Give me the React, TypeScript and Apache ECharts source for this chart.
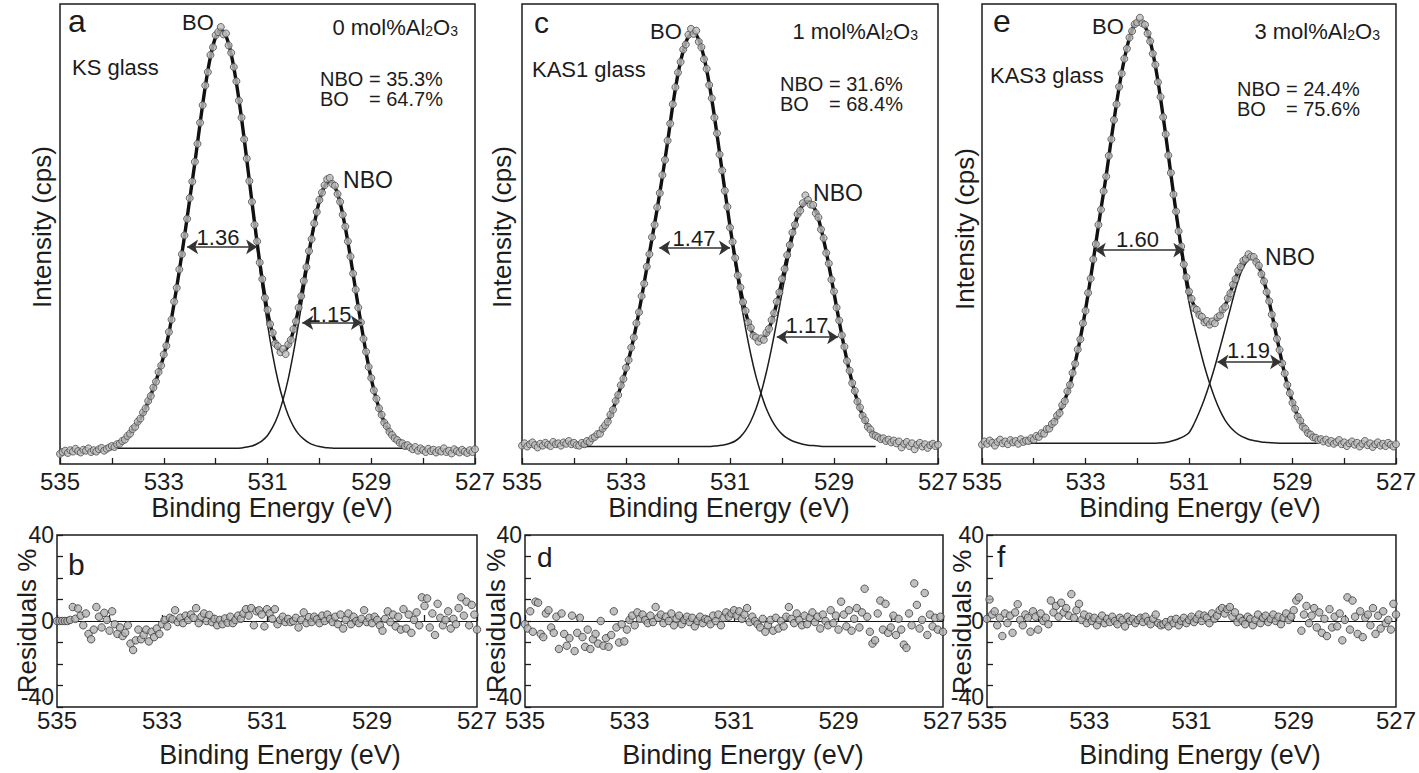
import React, { useEffect, useRef } from 'react';
import * as echarts from 'echarts';

const FONT = "'Liberation Sans', Arial, Helvetica, sans-serif";
const INK = '#1c1c1c';

// ---- measured spectra (intensity, arbitrary 0-100 units), 535.00 -> 527.00 eV, 0.05 eV step ----
const E_START = 535;
const E_STEP = 0.05;

const dataA = [
  2.2, 2.6, 2.9, 2.4, 3.0, 2.7, 3.3, 2.8, 2.5, 3.1, 2.9, 3.4, 2.6, 3.0, 2.7, 3.2, 3.5, 2.9, 3.3, 3.6,
  3.9, 3.7, 4.3, 4.4, 5.0, 5.3, 6.1, 6.6, 7.6, 8.1,
  9.2, 9.9, 11.2, 12.1, 13.7, 14.8, 16.6, 17.9, 20.0, 21.4,
  23.8, 25.7, 28.7, 31.4, 35.3, 38.3, 42.3, 45.6, 49.7, 53.3,
  57.8, 61.4, 65.7, 69.6, 74.2, 78.0, 82.3, 85.2, 88.9, 90.6,
  93.2, 93.9, 95.0, 93.4, 93.6, 91.0, 89.4, 86.3, 83.2, 79.0,
  75.3, 70.6, 66.4, 61.5, 57.0, 52.0, 48.4, 43.8, 40.2, 36.1,
  33.5, 30.4, 28.5, 26.2, 25.6, 24.3, 25.0, 23.9, 26.0, 27.0,
  29.3, 31.0, 34.0, 36.5, 39.8, 42.8, 46.3, 48.9, 52.3, 54.8,
  57.4, 59.0, 60.6, 61.9, 62.2, 60.9, 60.5, 58.7, 57.0, 54.2,
  51.6, 48.4, 45.1, 41.4, 37.9, 34.0, 30.8, 27.2, 24.4, 21.1,
  18.7, 16.0, 14.2, 12.1, 10.7, 9.0, 8.2, 7.0, 6.3, 5.6,
  5.2, 4.6, 4.5, 3.9, 4.1,
  3.6, 3.2, 3.7, 2.9, 3.4, 3.0, 2.6, 3.3, 2.8, 3.1, 2.5, 3.0, 2.7, 3.4, 2.6, 2.9, 2.3, 3.2, 2.8, 2.5, 3.1, 2.7, 2.4, 3.0, 2.6, 3.2,
];

const dataC = [
  4.0, 4.5, 3.8, 4.3, 4.7, 4.1, 3.6, 4.4, 4.0, 4.6, 4.2, 3.9, 4.8, 4.3, 4.5, 4.0, 4.7, 4.4, 5.0, 4.3, 4.6, 4.1,
  4.0, 4.6, 4.3, 5.0, 4.8, 5.6, 5.9, 6.5, 6.6, 7.7,
  8.4, 9.2, 10.7, 11.8, 13.7, 15.0, 17.1, 18.5, 20.9, 22.6,
  25.3, 27.5, 30.6, 33.0, 36.5, 39.2, 42.9, 45.6, 49.3, 52.0,
  55.8, 58.9, 62.8, 66.1, 70.3, 74.0, 78.2, 81.9, 85.1, 87.4,
  90.1, 91.2, 93.3, 94.6, 93.5, 94.2, 91.8, 90.6, 88.0, 85.9,
  82.4, 79.5, 75.3, 71.9, 67.3, 63.8, 59.4, 55.9, 51.4, 48.3,
  44.8, 41.0, 38.4, 35.2, 33.3, 30.8, 29.6, 27.9, 27.5, 26.6,
  27.3, 27.0, 28.5, 29.4, 31.3, 32.8, 35.3, 37.3, 40.2, 42.4,
  45.4, 47.6, 50.3, 52.0, 54.3, 55.1, 56.7, 58.4, 57.4, 56.4,
  56.3, 54.5, 53.6, 51.0, 49.1, 45.9, 43.6, 40.1, 37.5, 34.0,
  31.2, 28.0, 25.5, 22.4, 20.3, 17.6, 15.9, 13.6, 12.3, 10.5,
  9.5, 8.1, 7.5, 6.4, 6.1,
  5.8, 5.4, 5.6, 5.0, 5.3, 4.7, 5.1, 4.5, 4.9, 3.6, 4.4, 4.8, 3.9, 4.5, 3.2, 4.2, 4.6, 3.8, 4.3, 3.5, 4.1, 4.4, 3.9, 4.2,
];

const dataE = [
  4.2, 4.9, 4.4, 5.1, 4.6, 4.0, 4.8, 5.3, 4.5, 4.9, 4.3, 5.2, 4.7, 5.0, 4.4, 5.4, 4.8, 5.1,
  5.0, 5.6, 5.3, 6.1, 5.9, 6.7, 6.6, 7.6, 7.7, 8.7,
  9.2, 10.5, 11.1, 12.8, 13.7, 15.8, 17.2, 19.8, 21.8, 24.9,
  27.1, 30.6, 33.3, 37.2, 40.3, 44.5, 47.8, 52.0, 55.3, 59.3,
  62.5, 67.0, 70.6, 74.8, 78.2, 82.0, 84.9, 88.1, 90.3, 92.7,
  94.1, 95.6, 96.0, 97.0, 95.8, 95.5, 93.6, 91.9, 89.2, 86.8,
  83.0, 79.8, 75.4, 71.7, 67.1, 63.3, 58.6, 54.9, 50.6, 47.3,
  43.4, 40.6, 37.5, 35.9, 33.9, 33.5, 32.4, 32.0, 30.8, 31.1,
  30.3, 31.0, 30.6, 31.9, 32.3, 33.6, 34.2, 36.0, 37.1, 39.0,
  40.2, 42.0, 42.9, 44.2, 44.6, 45.6, 45.1, 45.0, 43.9, 43.1,
  41.3, 39.7, 37.4, 35.4, 32.5, 30.2, 27.2, 24.8, 21.9, 19.7,
  17.2, 15.4, 13.3, 12.0, 10.3, 9.4, 8.1, 7.6, 6.7, 6.4,
  5.8, 5.7, 5.2,
  5.4, 4.9, 5.3, 4.6, 5.0, 4.4, 4.8, 5.2, 4.3, 4.7, 3.9, 4.5, 4.9, 4.2, 4.6, 3.8, 4.4, 5.0, 4.1, 4.5, 3.7, 4.3, 4.7, 4.0, 4.4, 3.9, 4.6, 4.2, 3.8, 4.3,
];

// ---- fitted components, 0.1 eV step over the fit window ----
const FIT_STEP = 0.1;
const fitStartA = 534.0;
const baseA = 3.4;
const boA = [
  3.7, 4.2, 4.9, 6.0, 7.5, 9.0, 11.0, 13.5, 16.5, 19.8, 23.5, 28.5, 35.0, 42.0, 49.5, 57.5, 65.5, 74.0, 82.0, 88.5, 92.8, 94.4,
  93.0, 89.1, 82.9, 75.0, 65.9, 56.5, 47.1, 38.3, 30.4, 23.7, 18.2, 13.9, 10.6, 8.2, 6.5, 5.4, 4.6, 4.1, 3.8, 3.6, 3.5,
  3.4, 3.4, 3.4, 3.4, 3.4, 3.4, 3.4, 3.4, 3.4, 3.4, 3.4, 3.4, 3.4, 3.4, 3.4,
];
const nboA = [
  3.4, 3.4, 3.4, 3.4, 3.4, 3.4, 3.4, 3.4, 3.4, 3.4, 3.4, 3.4, 3.4, 3.4, 3.4, 3.4, 3.4, 3.4, 3.4, 3.4, 3.4, 3.4, 3.4, 3.4, 3.4,
  3.5, 3.7, 3.9, 4.4, 5.1, 6.2, 8.0, 10.5, 14.0, 18.5, 24.2, 30.7, 37.7, 44.9, 51.4, 56.8, 60.2, 61.4,
  60.2, 56.8, 51.4, 44.9, 37.7, 30.7, 24.2, 18.5, 14.0, 10.5, 8.0, 6.2, 5.1, 4.4, 3.9,
];

const fitStartC = 533.9;
const baseC = 3.8;
const boC = [
  4.2, 4.5, 5.0, 5.8, 6.8, 8.2, 10.5, 13.5, 16.8, 20.5, 25.0, 30.2, 36.2, 42.6, 49.0, 55.5, 62.5, 70.0, 78.0, 84.8,
  89.8, 92.9, 93.8, 92.2, 88.4, 82.7, 75.5, 67.4, 59.2, 51.0, 43.3, 36.0, 29.5, 23.8, 19.0, 15.2, 12.0, 9.6, 7.8, 6.5,
  5.6, 5.0, 4.6, 4.3, 4.1, 4.0, 3.9,
  3.8, 3.8, 3.8, 3.8, 3.8, 3.8, 3.8, 3.8, 3.8, 3.8, 3.8,
];
const nboC = [
  3.8, 3.8, 3.8, 3.8, 3.8, 3.8, 3.8, 3.8, 3.8, 3.8, 3.8, 3.8, 3.8, 3.8, 3.8, 3.8, 3.8, 3.8, 3.8, 3.8, 3.8, 3.8, 3.8, 3.8, 3.8, 3.8,
  3.9, 4.0, 4.2, 4.5, 5.0, 5.9, 7.3, 9.3, 12.0, 15.6, 20.0, 25.2, 31.0, 37.2, 43.3, 48.8, 53.2, 55.9, 56.8,
  55.9, 53.2, 48.8, 43.3, 37.2, 31.0, 25.2, 20.0, 15.6, 12.0, 9.3, 7.3, 5.9,
];

const fitStartE = 534.1;
const baseE = 4.5;
const boE = [
  5.1, 5.5, 6.0, 6.8, 7.8, 9.3, 11.3, 13.9, 17.3, 22.0, 27.3, 33.5, 40.5, 48.0, 55.5, 62.7, 70.8, 78.4, 85.1, 90.5,
  94.3, 96.2, 96.0, 93.8, 89.5, 83.2, 75.5, 67.0, 58.2, 49.8, 42.0, 35.2, 30.0, 25.5, 21.2, 17.5, 14.3, 11.6, 9.5, 8.0,
  6.9, 6.1, 5.6, 5.2, 5.0, 4.8, 4.7, 4.6, 4.55, 4.5,
  4.5, 4.5, 4.5, 4.5, 4.5, 4.5, 4.5,
];
const nboE = [
  4.5, 4.5, 4.5, 4.5, 4.5, 4.5, 4.5, 4.5, 4.5, 4.5, 4.5, 4.5, 4.5, 4.5, 4.5, 4.5, 4.5, 4.5, 4.5, 4.5, 4.5, 4.5, 4.5, 4.5, 4.5,
  4.55, 4.6, 4.8, 5.1, 5.5, 6.0, 6.8, 8.8, 11.3, 14.2, 17.5, 21.2, 25.3, 29.5, 33.8, 38.0, 41.5, 43.7, 44.6,
  43.6, 41.2, 37.4, 32.6, 27.3, 22.0, 17.3, 13.4, 10.4, 8.2, 6.8, 5.9, 5.3,
];

// ---- residuals (%), 535.00 -> 527.00 eV, 0.05 eV step ----
const residB = [
  0, 0, 0, 0, 0, 0.5, 6.5, 1.0, 5.8, 2.5,
  -2.0, 3.5, -6.0, -8.5, -4.0, 6.5, 2.0, -3.0, 3.8, 0.5,
  -4.5, 4.5, -1.5, -6.0, -3.0, -7.0, -5.5, -2.0, -10.5, -13.5,
  -9.0, -4.0, -8.5, -6.5, -4.0, -9.5, -5.0, -7.5, -3.5, -6.0,
  -1.5, 0.5, -2.5, 1.5, 0.8, 5.0, -0.5, 1.5, -1.0, 2.5,
  0.5, 3.0, 1.5, 6.0, -1.0, 2.0, 3.5, 0.0, 2.8, -0.5,
  1.0, -2.0, 0.5, -1.5, 1.2, -0.8, 2.0, -1.0, 0.5, 2.5,
  1.0, 3.5, 5.5, 2.5, 6.0, -2.0, 4.5, 5.0, 3.0, -2.5,
  5.5, 3.5, 1.0, 5.5, -1.5, 0.5, 2.0, -0.5, 1.0, -0.5,
  0.0, 1.5, -3.0, 0.5, 4.0, -1.0, 1.8, -0.5, 2.0, 0.8,
  -1.0, 2.5, 0.0, 3.0, 1.0, -0.5, 2.0, -1.5, 3.0, -3.5,
  0.5, 3.5, -1.5, 2.0, 0.0, -1.0, 1.0, 5.0, -0.5, 1.5,
  -1.0, 2.0, 0.5, -2.0, -4.5, 1.0, 4.5, -0.5, 3.0, -2.5,
  2.0, -4.0, 5.5, -3.5, 3.0, -5.5, 0.5, 4.0, -2.0, 11.0,
  7.0, 10.5, -3.0, 3.5, -6.5, 8.0, 1.5, -2.0, 0.5, 4.5,
  -3.5, 1.0, -1.5, 6.0, 11.0, 2.5, 9.0, -2.0, 7.5, 3.0,
  -4.0,
];

const residD = [
  -1.5, -3.5, 4.5, -5.0, 9.0, 8.5, -6.0, -7.5, 3.5, 5.0,
  -3.0, -5.5, 2.0, -13.0, 3.5, -6.0, -11.5, -8.0, 2.5, -14.0,
  -5.5, 1.5, -7.5, -12.0, -4.0, -13.0, -8.5, -6.0, -10.5, 0.0,
  -11.5, -8.0, -12.0, -6.5, 4.5, -3.0, -10.0, -1.5, -9.5, -4.0,
  0.5, 2.5, -2.0, 4.0, 1.0, 3.0, 0.5, -1.0, 2.5, -0.5,
  6.5, 1.5, 3.0, -1.0, 2.0, 0.0, 3.5, -2.0, 1.0, 2.5,
  -1.5, 0.5, 2.0, -0.5, 1.5, -2.5, 0.0, 2.0, -1.0, 1.0,
  0.5, -1.5, 2.5, 0.0, 3.0, -2.0, 1.5, 4.0, 2.0, 3.5,
  5.0, 2.5, 4.5, 1.0, 3.0, 6.0, -0.5, 2.0, 0.0, -1.5,
  -3.0, 1.0, -5.0, -2.0, 0.5, -4.5, 1.5, -3.5, 0.0, -2.5,
  2.0, 6.5, 1.0, -1.0, 3.5, 0.5, -2.0, 2.5, -1.5, 1.5,
  4.0, -0.5, 2.0, -3.5, 3.0, 0.0, -2.0, 5.0, -1.0, 2.5,
  -4.0, 9.0, 3.0, -2.5, 5.0, -4.5, 1.0, 6.0, -3.0, 4.0,
  15.0, 2.0, -5.0, -10.5, -9.0, 3.5, 9.5, -4.0, 8.0, -5.5,
  -3.0, 2.5, -6.5, 1.0, -4.0, -11.0, -12.5, 3.5, -2.0, 17.5,
  7.5, -3.5, 0.5, 13.0, -6.5, 3.0, -2.5, 1.5, -4.0, 2.0,
  -5.0,
];

const residF = [
  1.0, 10.0, 3.0, 4.5, -2.0, 1.5, -7.0, 3.5, -1.0, 2.5,
  -5.5, 4.0, 7.8, 0.5, -2.0, 3.0, 1.5, -5.0, 4.5, 2.0,
  -4.0, 3.5, 0.0, 1.5, -1.5, 9.5, 4.0, 7.0, 2.0, 8.5,
  4.0, 6.0, 2.5, 12.5, 1.5, 5.0, 8.0, 0.5, 3.0, -1.0,
  2.0, 0.0, 1.5, -2.0, 0.5, 2.5, -1.0, 1.0, -0.5, 2.0,
  0.0, -1.5, 1.5, 0.5, -2.5, 2.0, 0.0, 1.0, -1.0, 0.5,
  1.5, -0.5, 2.0, 0.0, -1.5, 1.0, 3.0, -1.0, -2.0, -1.5,
  -0.5, -2.5, 0.5, -1.0, 1.0, -2.0, 0.0, 1.5, -1.0, 0.5,
  2.0, -0.5, 1.0, 3.0, 0.0, 2.5, 1.5, -1.0, 3.5, 1.0,
  2.5, 5.0, 6.0, 3.5, 5.5, 6.5, 2.0, 4.0, -0.5, 1.5,
  0.0, -1.5, 2.0, 1.0, -2.0, 0.5, 3.0, -1.0, 1.5, 2.5,
  -0.5, 1.0, 3.0, 0.0, 2.0, -1.5, 1.5, 3.5, 0.5, 2.0,
  5.0, 9.5, 11.0, -4.5, 3.0, 7.0, -1.0, 2.5, 6.0, -3.0,
  4.0, -5.5, 1.0, -7.0, 5.5, -3.0, 2.0, -2.5, 3.5, -9.0,
  0.5, 11.0, -4.0, 9.5, 2.0, -6.0, 4.5, -7.5, 1.5, 3.0,
  -2.0, 6.0, -6.0, 2.5, -3.5, 4.5, -1.0, 0.5, -4.0, 8.0,
  3.0,
];

// axis tick labels
const xTickLabels = [535, 533, 531, 529, 527];
const residTickLabels = [40, 0, -40];

// FWHM annotations (eV from, eV to, intensity level)
const fwhmA = [[532.55, 531.2, 47.2], [530.33, 529.18, 30.7]];
const fwhmC = [[532.36, 531.0, 47.0], [530.1, 528.92, 27.6]];
const fwhmE = [[532.82, 531.09, 46.5], [530.45, 529.22, 22.2]];

// ---- helpers ----
const energyGrid = (start: number, step: number, n: number) =>
  Array.from({ length: n }, (_, i) => Math.round((start - step * i) * 1000) / 1000);
const toPairs = (start: number, step: number, vals: number[]) => {
  const xs = energyGrid(start, step, vals.length);
  return vals.map((v, i) => [xs[i], v]);
};
const envelope = (bo: number[], nbo: number[], base: number) =>
  bo.map((v, i) => Math.round((v + nbo[i] - base) * 100) / 100);

const mainPanels = [
  { grid: { left: 60, top: 4, width: 415, height: 460 }, data: dataA, bo: boA, nbo: nboA, start: fitStartA, base: baseA, fwhm: fwhmA },
  { grid: { left: 522, top: 4, width: 416, height: 460 }, data: dataC, bo: boC, nbo: nboC, start: fitStartC, base: baseC, fwhm: fwhmC },
  { grid: { left: 982, top: 4, width: 415, height: 460 }, data: dataE, bo: boE, nbo: nboE, start: fitStartE, base: baseE, fwhm: fwhmE },
];
const residPanels = [
  { grid: { left: 57, top: 535, width: 420, height: 172 }, data: residB },
  { grid: { left: 525, top: 535, width: 418, height: 172 }, data: residD },
  { grid: { left: 987, top: 535, width: 416, height: 172 }, data: residF },
];

type T = { t: string; x: number; y: number; s?: number; a?: string; r?: number; rich?: 'mol' };
const txt = (o: T) => {
  const size = o.s ?? 22;
  const style: any = {
    text: o.t,
    fontSize: size,
    fontFamily: FONT,
    fill: INK,
    align: o.a ?? 'center',
    textAlign: o.a ?? 'center',
    verticalAlign: 'middle',
    textVerticalAlign: 'middle',
  };
  if (o.rich === 'mol') {
    style.rich = {
      n: { fontSize: size, fontFamily: FONT, fill: INK, lineHeight: 24, verticalAlign: 'bottom' },
      s: { fontSize: 14, fontFamily: FONT, fill: INK, lineHeight: 10, verticalAlign: 'bottom' },
    };
  }
  return { type: 'text', x: o.x, y: o.y, rotation: o.r ?? 0, silent: true, z: 100, style };
};

const molText = (n: string) => `{n|${n} mol%Al}{s|2}{n|O}{s|3}`;

// two-line NBO / BO fractions: "=" of both lines aligned
const statLines = (x: number, y: number, nbo: string, bo: string): T[] => [
  { t: `NBO = ${nbo}%`, x, y: y - 10, s: 20, a: 'left' },
  { t: 'BO', x, y: y + 10, s: 20, a: 'left' },
  { t: `= ${bo}%`, x: x + 49, y: y + 10, s: 20, a: 'left' },
];

const annotations: T[] = [
  // panel letters
  { t: 'a', x: 68, y: 21, s: 32, a: 'left' },
  { t: 'c', x: 534, y: 22, s: 30, a: 'left' },
  { t: 'e', x: 993, y: 21, s: 32, a: 'left' },
  { t: 'b', x: 68, y: 564, s: 30, a: 'left' },
  { t: 'd', x: 537, y: 557, s: 28, a: 'left' },
  { t: 'f', x: 997, y: 556, s: 30, a: 'left' },
  // axis titles
  { t: 'Intensity (cps)', x: 42, y: 227, s: 26, r: Math.PI / 2 },
  { t: 'Intensity (cps)', x: 502, y: 227, s: 26, r: Math.PI / 2 },
  { t: 'Intensity (cps)', x: 965, y: 229, s: 26, r: Math.PI / 2 },
  { t: 'Residuals %', x: 27, y: 621, s: 26, r: Math.PI / 2 },
  { t: 'Residuals %', x: 496, y: 621, s: 26, r: Math.PI / 2 },
  { t: 'Residuals %', x: 962, y: 622, s: 26, r: Math.PI / 2 },
  { t: 'Binding Energy (eV)', x: 272, y: 507.5, s: 27 },
  { t: 'Binding Energy (eV)', x: 729, y: 507.5, s: 27 },
  { t: 'Binding Energy (eV)', x: 1200, y: 507.5, s: 27 },
  { t: 'Binding Energy (eV)', x: 280, y: 755, s: 27 },
  { t: 'Binding Energy (eV)', x: 743, y: 755, s: 27 },
  { t: 'Binding Energy (eV)', x: 1200, y: 755, s: 27 },
  // panel a
  { t: 'BO', x: 198, y: 22.5, s: 22 },
  { t: molText('0'), x: 458, y: 26, s: 22, a: 'right', rich: 'mol' },
  { t: 'KS glass', x: 72, y: 67.5, s: 22, a: 'left' },
  ...statLines(320, 89, '35.3', '64.7'),
  { t: 'NBO', x: 368, y: 180, s: 23 },
  { t: '1.36', x: 218, y: 237.5, s: 22 },
  { t: '1.15', x: 330, y: 314.5, s: 22 },
  // panel c
  { t: 'BO', x: 666, y: 31.5, s: 22 },
  { t: molText('1'), x: 918, y: 30, s: 22, a: 'right', rich: 'mol' },
  { t: 'KAS1 glass', x: 532, y: 69.5, s: 22, a: 'left' },
  ...statLines(780, 94, '31.6', '68.4'),
  { t: 'NBO', x: 838, y: 192.5, s: 23 },
  { t: '1.47', x: 694, y: 238.5, s: 22 },
  { t: '1.17', x: 807, y: 325.5, s: 22 },
  // panel e
  { t: 'BO', x: 1108, y: 26.5, s: 22 },
  { t: molText('3'), x: 1380, y: 30, s: 22, a: 'right', rich: 'mol' },
  { t: 'KAS3 glass', x: 990, y: 75.5, s: 22, a: 'left' },
  ...statLines(1237, 98.5, '24.4', '75.6'),
  { t: 'NBO', x: 1290, y: 256.5, s: 23 },
  { t: '1.60', x: 1137.5, y: 239.5, s: 22 },
  { t: '1.19', x: 1248.5, y: 350.5, s: 22 },
];

function buildOption() {
  const grids = [...mainPanels, ...residPanels].map((p) => ({
    ...p.grid,
    show: true,
    borderColor: INK,
    borderWidth: 1.5,
    backgroundColor: 'transparent',
    containLabel: false,
  }));

  const xAxis = [0, 1, 2, 3, 4, 5].map((i) => ({
    type: 'value',
    gridIndex: i,
    min: 527,
    max: 535,
    interval: 1,
    inverse: true,
    axisLine: { show: false },
    axisTick: { show: true, inside: true, length: 6, lineStyle: { color: INK, width: 1.3 } },
    splitLine: { show: false },
    axisLabel: {
      show: true,
      showMinLabel: true,
      showMaxLabel: true,
      hideOverlap: false,
      margin: i < 3 ? 5 : 1,
      fontSize: 24,
      fontFamily: FONT,
      color: INK,
      formatter: (v: number) => (xTickLabels.includes(Math.round(v)) ? String(Math.round(v)) : ''),
    },
  }));

  const yAxis = [0, 1, 2, 3, 4, 5].map((i) =>
    i < 3
      ? { type: 'value', gridIndex: i, min: 0, max: 100, show: false, splitLine: { show: false } }
      : {
          type: 'value',
          gridIndex: i,
          min: -40,
          max: 40,
          interval: 10,
          axisLine: { show: false },
          axisTick: { show: true, inside: true, length: 6, lineStyle: { color: INK, width: 1.3 } },
          splitLine: { show: false },
          axisLabel: {
            show: true,
            margin: 3,
            fontSize: 23,
            fontFamily: FONT,
            color: INK,
            formatter: (v: number) =>
              residTickLabels.includes(v) ? (v < 0 ? `{lo|${v}}` : String(v)) : '',
            rich: {
              lo: { fontSize: 23, fontFamily: FONT, color: INK, padding: [0, 0, 20, 0] },
            },
          },
        }
  );

  const series: any[] = [];
  mainPanels.forEach((p, i) => {
    const common = { xAxisIndex: i, yAxisIndex: i, silent: true, symbol: 'none', smooth: 0.3, animation: false };
    series.push({ ...common, type: 'line', data: toPairs(p.start, FIT_STEP, p.bo), lineStyle: { color: INK, width: 1.5 }, z: 2 });
    series.push({ ...common, type: 'line', data: toPairs(p.start, FIT_STEP, p.nbo), lineStyle: { color: INK, width: 1.5 }, z: 2 });
    series.push({
      ...common,
      type: 'line',
      data: toPairs(p.start, FIT_STEP, envelope(p.bo, p.nbo, p.base)),
      lineStyle: { color: '#111', width: 3.4 },
      z: 3,
      markLine: {
        silent: true,
        symbol: ['arrow', 'arrow'],
        symbolSize: 11,
        label: { show: false },
        lineStyle: { color: '#333', width: 1.6, type: 'solid' },
        data: p.fwhm.map(([x1, x2, y]) => [{ coord: [x1, y] }, { coord: [x2, y] }]),
        z: 10,
      },
    });
    series.push({
      type: 'scatter',
      xAxisIndex: i,
      yAxisIndex: i,
      silent: true,
      data: toPairs(E_START, E_STEP, p.data),
      symbol: 'circle',
      symbolSize: 7,
      itemStyle: { color: '#bdbdbd', borderColor: '#4a4a4a', borderWidth: 1 },
      z: 5,
    });
  });
  residPanels.forEach((p, k) => {
    const i = k + 3;
    series.push({
      type: 'scatter',
      xAxisIndex: i,
      yAxisIndex: i,
      silent: true,
      data: toPairs(E_START, E_STEP, p.data),
      symbol: 'circle',
      symbolSize: 7.5,
      itemStyle: { color: '#b0b0b0', borderColor: '#3a3a3a', borderWidth: 1 },
      z: 5,
      markLine: {
        silent: true,
        symbol: 'none',
        label: { show: false },
        lineStyle: { color: '#111', width: 1.2, type: 'solid' },
        data: [{ yAxis: 0 }],
      },
    });
  });

  return {
    animation: false,
    backgroundColor: '#ffffff',
    textStyle: { fontFamily: FONT },
    grid: grids,
    xAxis,
    yAxis,
    series,
    graphic: annotations.map(txt),
  };
}

export default function App() {
  const ref = useRef<HTMLDivElement | null>(null);
  useEffect(() => {
    if (!ref.current) return;
    const chart = echarts.init(ref.current, undefined, { renderer: 'svg' });
    chart.setOption(buildOption() as any);
    return () => chart.dispose();
  }, []);
  return (
    <div
      ref={ref}
      style={{ position: 'absolute', left: 0, top: 0, width: 1419, height: 773, background: '#fff' }}
    />
  );
}
